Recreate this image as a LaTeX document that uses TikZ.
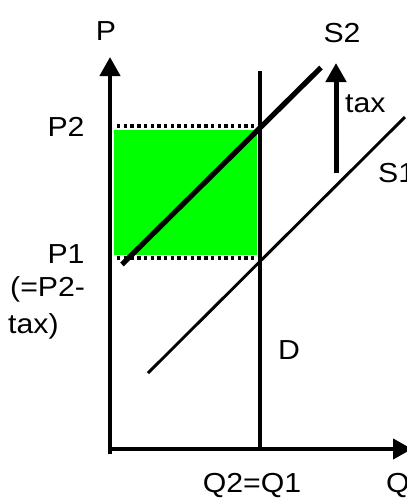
\documentclass[tikz,border=0pt]{standalone}
\usepackage{fontspec}
\setmainfont{Liberation Sans}
\usetikzlibrary{arrows.meta}
\newcommand{\wt}[1]{\scalebox{1.1}[1]{#1}}
\begin{document}
\begin{tikzpicture}[x=1pt,y=-1pt,
  lbl/.style={inner sep=0pt,font=\fontsize{27.5}{32}\selectfont},
  axisline/.style={line width=4.2pt},
  tip/.style={-{Triangle[width=20pt,length=19pt]}},
  dotline/.style={line width=3.6pt,dash pattern=on 3.4pt off 3.3pt},
  ]
\useasboundingbox (0,0) rectangle (407,499);
% coordinates
\coordinate (O) at (110,449);
\coordinate (Obot) at (110,453.5);
\coordinate (Ytop) at (110,57);
\coordinate (Xend) at (412,449);
\coordinate (Dtop) at (260,71);
\coordinate (Dbot) at (260,449);
\coordinate (G1) at (114.3,130);
\coordinate (G2) at (257,255);
\coordinate (P2a) at (117,125.7);
\coordinate (P2b) at (258,125.7);
\coordinate (P1a) at (117,257.7);
\coordinate (P1b) at (258,257.7);
\coordinate (S2a) at (122,264.5);
\coordinate (S2b) at (321,67.5);
\coordinate (S1a) at (148,373);
\coordinate (S1b) at (405,117);
\coordinate (Ta) at (336,173);
\coordinate (Tb) at (336,63);
% green area
\fill[green] (G1) rectangle (G2);
% dotted price lines
\draw[dotline] (P2a) -- (P2b);
\draw[dotline] (P1a) -- (P1b);
% axes
\draw[axisline,tip] (Obot) -- (Ytop);
\draw[axisline,tip] (O) -- (Xend);
% demand
\draw[axisline] (Dbot) -- (Dtop);
% supply curves
\draw[line width=5.2pt] (S2a) -- (S2b);
\draw[line width=2.9pt] (S1a) -- (S1b);
% tax arrow
\draw[line width=5pt,tip] (Ta) -- (Tb);
% labels
\node[lbl,anchor=base] (lP) at (106,40) {\wt{P}};
\node[lbl,anchor=base] (lS2) at (342,42) {\wt{S2}};
\node[lbl,anchor=base] (lP2) at (66,136) {\wt{P2}};
\node[lbl,anchor=base west] (ltax) at (345,112) {\wt{tax}};
\node[lbl,anchor=base west] (lS1) at (378,182) {\wt{S1}};
\node[lbl,anchor=base] (lP1) at (66,263) {\wt{P1}};
\node[lbl,anchor=base west] (lP1b) at (10,296) {\wt{(=P2-}};
\node[lbl,anchor=base west] (lP1c) at (8,333) {\wt{tax)}};
\node[lbl,anchor=base west] (lD) at (278,359) {\wt{D}};
\node[lbl,anchor=base] (lQ21) at (252,492) {\wt{Q2=Q1}};
\node[lbl,anchor=base west] (lQ) at (386,492) {\wt{Q}};
\end{tikzpicture}
\end{document}
